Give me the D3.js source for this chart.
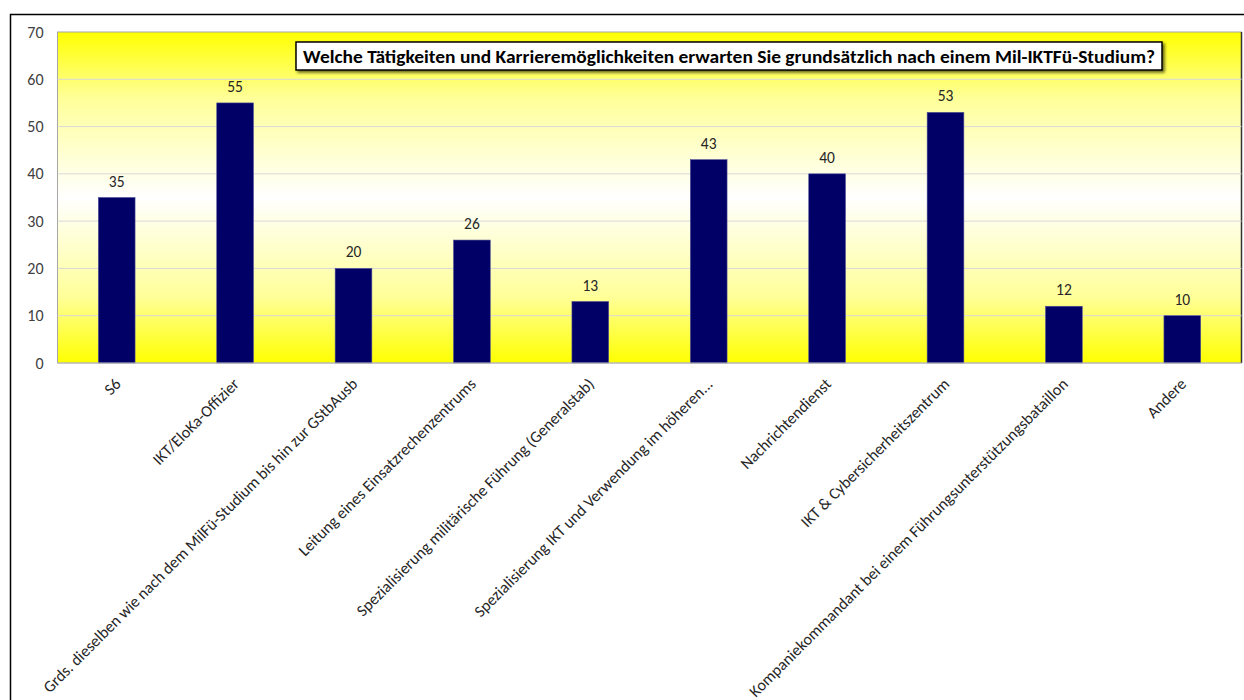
<!doctype html>
<html lang="de">

<head>
  <meta charset="utf-8">
  <title>Bar chart - D3</title>
  <style>
    body { margin: 0; background: #fff; }
    svg { display: block; }
  </style>
</head>

<body>
  <svg width="1244" height="700"></svg>

  <script src="https://cdn.jsdelivr.net/npm/d3@7/dist/d3.min.js"></script>
  <script>
    var title = 'Welche Tätigkeiten und Karrieremöglichkeiten erwarten Sie grundsätzlich nach einem Mil-IKTFü-Studium?';
    var categories = [
      'S6',
      'IKT/EloKa-Offizier',
      'Grds. dieselben wie nach dem MilFü-Studium bis hin zur GStbAusb',
      'Leitung eines Einsatzrechenzentrums',
      'Spezialisierung militärische Führung (Generalstab)',
      'Spezialisierung IKT und Verwendung im höheren...',
      'Nachrichtendienst',
      'IKT & Cybersicherheitszentrum',
      'Kompaniekommandant bei einem Führungsunterstützungsbataillon',
      'Andere'
    ];
    var values = [35, 55, 20, 26, 13, 43, 40, 53, 12, 10];
    var yTicks = [0, 10, 20, 30, 40, 50, 60, 70];

    var font = "Carlito, Calibri, Lato, sans-serif";
    var plotL = 57.5, plotR = 1241.5, plotT = 32, plotB = 363;

    var svg = d3.select('svg');
    var defs = svg.append('defs');

    var grad = defs.append('linearGradient')
      .attr('id', 'bg')
      .attr('x1', 0).attr('y1', 0).attr('x2', 0).attr('y2', 1);
    grad.append('stop').attr('offset', '0%').attr('stop-color', '#ffff00');
    grad.append('stop').attr('offset', '20%').attr('stop-color', '#ffff99');
    grad.append('stop').attr('offset', '50%').attr('stop-color', '#ffffff');
    grad.append('stop').attr('offset', '80%').attr('stop-color', '#ffff99');
    grad.append('stop').attr('offset', '100%').attr('stop-color', '#ffff00');

    var shadow = defs.append('filter').attr('id', 'shadow')
      .attr('x', '-5%').attr('y', '-30%').attr('width', '110%').attr('height', '170%');
    shadow.append('feDropShadow')
      .attr('dx', 2).attr('dy', 2).attr('stdDeviation', 1.5)
      .attr('flood-color', '#000').attr('flood-opacity', 0.6);

    // outer chart border
    svg.append('rect')
      .attr('x', 10.5).attr('y', 14.5)
      .attr('width', 1240).attr('height', 700)
      .attr('fill', '#fff')
      .attr('stroke', '#000')
      .attr('stroke-width', 1.5);

    var x = d3.scaleBand()
      .domain(categories)
      .range([plotL, plotR])
      .paddingInner(0.69)
      .paddingOuter(0.345);

    var y = d3.scaleLinear()
      .domain([0, 70])
      .range([plotB, plotT]);

    // plot area
    svg.append('rect')
      .attr('x', plotL).attr('y', plotT)
      .attr('width', plotR - plotL).attr('height', plotB - plotT)
      .attr('fill', 'url(#bg)')
      .attr('stroke', '#a6a6a6')
      .attr('stroke-width', 1);
    svg.append('line')
      .attr('x1', plotR).attr('x2', plotR)
      .attr('y1', plotT).attr('y2', plotB)
      .attr('stroke', '#333')
      .attr('stroke-width', 1.5);

    // gridlines
    svg.append('g')
      .selectAll('line').data(yTicks.slice(1, -1)).enter()
      .append('line')
      .attr('x1', plotL).attr('x2', plotR)
      .attr('y1', v => y(v)).attr('y2', v => y(v))
      .attr('stroke', '#d9d9d9')
      .attr('stroke-width', 1);

    // y axis
    var yAxis = svg.append('g')
      .attr('transform', 'translate(' + plotL + ',0)')
      .call(d3.axisLeft(y).tickValues(yTicks).tickSize(0).tickPadding(14));
    yAxis.select('.domain').remove();
    yAxis.selectAll('text')
      .attr('font-family', font)
      .attr('font-size', 16)
      .attr('fill', '#404040');

    // bars
    svg.append('g')
      .selectAll('rect').data(values).enter()
      .append('rect')
      .attr('x', (v, i) => x(categories[i]))
      .attr('y', v => y(v))
      .attr('width', x.bandwidth())
      .attr('height', v => y(0) - y(v))
      .attr('fill', '#000066')
      .attr('stroke', '#4d4d99')
      .attr('stroke-width', 0.6);

    // value labels
    svg.append('g')
      .selectAll('text').data(values).enter()
      .append('text')
      .text(v => v)
      .attr('x', (v, i) => x(categories[i]) + x.bandwidth() / 2)
      .attr('y', v => y(v) - 11)
      .attr('text-anchor', 'middle')
      .attr('font-family', font)
      .attr('font-size', 15.5)
      .attr('fill', '#262626');

    // x axis line
    svg.append('line')
      .attr('x1', plotL).attr('x2', plotR)
      .attr('y1', plotB).attr('y2', plotB)
      .attr('stroke', '#bfbfbf')
      .attr('stroke-width', 1);

    // category labels
    svg.append('g')
      .selectAll('text').data(categories).enter()
      .append('text')
      .text(d => d)
      .attr('transform', d => 'translate(' + (x(d) + x.bandwidth() / 2 + 5) + ',' + (plotB + 22) + ') rotate(-45)')
      .attr('text-anchor', 'end')
      .attr('font-family', font)
      .attr('font-size', 16.2)
      .attr('fill', '#262626');

    // title box
    var tg = svg.append('g');
    tg.append('rect')
      .attr('x', 296).attr('y', 42)
      .attr('width', 866).attr('height', 28)
      .attr('fill', '#fff')
      .attr('stroke', '#000')
      .attr('stroke-width', 1.5)
      .attr('filter', 'url(#shadow)');
    tg.append('text')
      .text(title)
      .attr('x', 729).attr('y', 63)
      .attr('text-anchor', 'middle')
      .attr('font-family', font)
      .attr('font-weight', 'bold')
      .attr('font-size', 18)
      .attr('textLength', 852)
      .attr('lengthAdjust', 'spacingAndGlyphs')
      .attr('fill', '#000');
  </script>
</body>

</html>
